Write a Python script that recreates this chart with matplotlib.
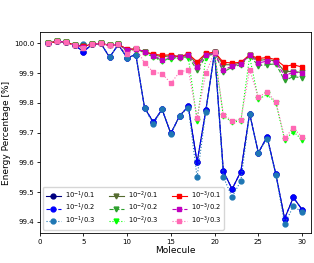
import matplotlib
matplotlib.use("Agg")
import matplotlib.pyplot as plt
import numpy as np

molecules = np.arange(1, 31)

# 10^-1 thresholds
e1_01 = [100.0, 100.007, 100.004, 99.994, 99.972, 99.996, 100.0, 99.953, 99.996, 99.951,
         99.962, 99.783, 99.735, 99.778, 99.697, 99.756, 99.788, 99.600, 99.775, 99.970,
         99.570, 99.510, 99.569, 99.764, 99.632, 99.686, 99.560, 99.411, 99.482, 99.441]
e1_02 = [100.0, 100.007, 100.004, 99.994, 99.972, 99.996, 100.0, 99.953, 99.996, 99.951,
         99.962, 99.783, 99.735, 99.778, 99.697, 99.756, 99.788, 99.600, 99.775, 99.970,
         99.570, 99.510, 99.569, 99.764, 99.632, 99.686, 99.560, 99.411, 99.482, 99.441]
e1_03 = [100.0, 100.007, 100.004, 99.994, 99.998, 99.996, 100.0, 99.953, 99.996, 99.951,
         99.962, 99.783, 99.728, 99.778, 99.694, 99.756, 99.784, 99.550, 99.770, 99.970,
         99.551, 99.483, 99.538, 99.762, 99.632, 99.680, 99.558, 99.393, 99.452, 99.433]

# 10^-2 thresholds
e2_01 = [100.0, 100.007, 100.004, 99.994, 99.990, 99.996, 100.0, 99.993, 99.996, 99.979,
         99.981, 99.971, 99.961, 99.955, 99.958, 99.955, 99.962, 99.930, 99.963, 99.970,
         99.928, 99.928, 99.933, 99.961, 99.942, 99.946, 99.940, 99.905, 99.905, 99.902]
e2_02 = [100.0, 100.007, 100.004, 99.994, 99.988, 99.996, 100.0, 99.993, 99.996, 99.977,
         99.980, 99.970, 99.955, 99.942, 99.950, 99.952, 99.955, 99.910, 99.955, 99.967,
         99.903, 99.920, 99.928, 99.958, 99.925, 99.928, 99.931, 99.875, 99.888, 99.884]
e2_03 = [100.0, 100.007, 100.004, 99.994, 99.985, 99.996, 100.0, 99.993, 99.996, 99.975,
         99.979, 99.968, 99.953, 99.940, 99.948, 99.950, 99.952, 99.740, 99.952, 99.967,
         99.755, 99.736, 99.738, 99.955, 99.812, 99.828, 99.800, 99.676, 99.703, 99.676]

# 10^-3 thresholds
e3_01 = [100.0, 100.007, 100.004, 99.994, 99.990, 99.997, 100.0, 99.993, 99.997, 99.980,
         99.981, 99.972, 99.963, 99.960, 99.961, 99.955, 99.964, 99.938, 99.966, 99.970,
         99.936, 99.934, 99.936, 99.961, 99.949, 99.952, 99.945, 99.922, 99.928, 99.920]
e3_02 = [100.0, 100.007, 100.004, 99.994, 99.988, 99.996, 100.0, 99.993, 99.996, 99.979,
         99.981, 99.972, 99.958, 99.945, 99.953, 99.955, 99.959, 99.922, 99.959, 99.967,
         99.911, 99.923, 99.931, 99.961, 99.934, 99.940, 99.937, 99.891, 99.903, 99.900]
e3_03 = [100.0, 100.007, 100.004, 99.994, 99.985, 99.996, 100.0, 99.993, 99.996, 99.964,
         99.983, 99.934, 99.903, 99.898, 99.866, 99.903, 99.911, 99.749, 99.900, 99.970,
         99.760, 99.740, 99.742, 99.911, 99.820, 99.836, 99.803, 99.683, 99.714, 99.686]

series = [
    (e1_01, r'$10^{-1}$/0.1', 'navy', 'o', '-'),
    (e1_02, r'$10^{-1}$/0.2', 'blue', 'o', '--'),
    (e1_03, r'$10^{-1}$/0.3', '#1f77b4', 'o', ':'),
    (e2_01, r'$10^{-2}$/0.1', 'darkolivegreen', 'v', '-'),
    (e2_02, r'$10^{-2}$/0.2', '#2ca02c', 'v', '--'),
    (e2_03, r'$10^{-2}$/0.3', 'lime', 'v', ':'),
    (e3_01, r'$10^{-3}$/0.1', 'red', 's', '-'),
    (e3_02, r'$10^{-3}$/0.2', 'm', 's', '--'),
    (e3_03, r'$10^{-3}$/0.3', 'hotpink', 's', ':'),
]

fig = plt.figure(figsize=(3.14, 2.63), dpi=100)
ax = fig.add_axes([0.126, 0.114, 0.864, 0.764])

for vals, lab, col, mk, ls in series:
    ax.plot(molecules, vals, color=col, marker=mk, linestyle=ls,
            markersize=3.5, linewidth=0.8, label=lab)

ax.set_xlim(0, 31)
ax.set_xticks([0, 5, 10, 15, 20, 25, 30])
ax.set_yticks([99.4, 99.5, 99.6, 99.7, 99.8, 99.9, 100.0])
ax.tick_params(labelsize=5, length=2.5, width=0.6, pad=1.5)
for s in ax.spines.values():
    s.set_linewidth(0.6)
ax.set_xlabel('Molecule', fontsize=6.5, labelpad=1)
ax.set_ylabel('Energy Percentage [%]', fontsize=6.5, labelpad=2)
ax.legend(loc='lower left', ncol=3, fontsize=4.9, handlelength=2.2,
          columnspacing=2.0, labelspacing=0.03, borderpad=0.4,
          handletextpad=0.6, framealpha=0.8)

fig.savefig('out.png', dpi=100)
